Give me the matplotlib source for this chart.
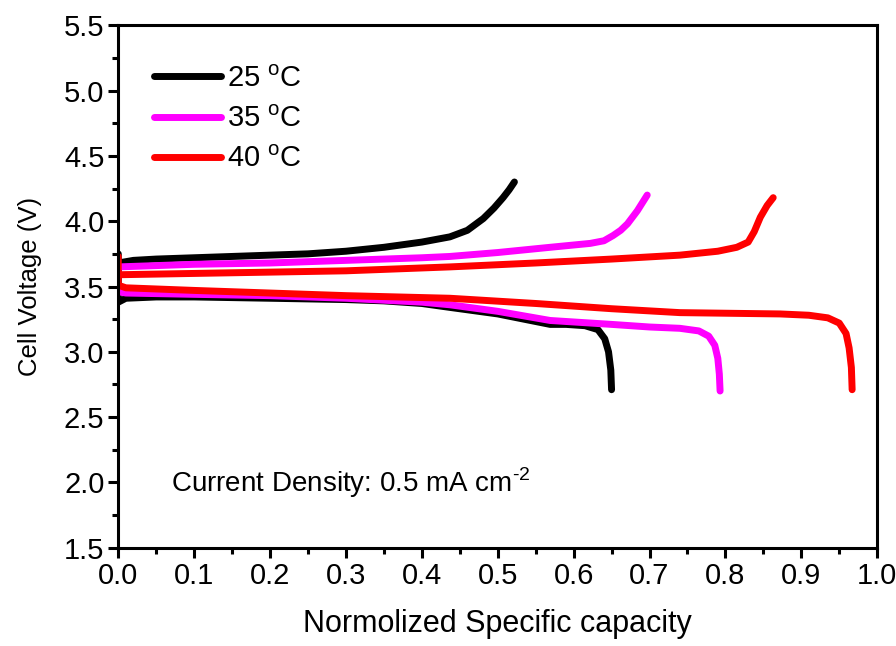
import matplotlib
matplotlib.use("Agg")
from matplotlib import pyplot as plt
from matplotlib.ticker import MultipleLocator
import numpy as np

plt.rcParams['font.family'] = ['Liberation Sans', 'DejaVu Sans']
plt.rcParams['mathtext.fontset'] = 'custom'
plt.rcParams['mathtext.rm'] = 'Liberation Sans'

# charge / discharge curves, capacity normalised
cap_25_chg = [0, 0.02, 0.05, 0.1, 0.15, 0.2, 0.25, 0.3, 0.35, 0.4, 0.437, 0.46, 0.481, 0.495, 0.507, 0.515, 0.522]
v_25_chg = [3.68, 3.70, 3.71, 3.72, 3.73, 3.74, 3.75, 3.77, 3.80, 3.84, 3.88, 3.93, 4.02, 4.10, 4.18, 4.24, 4.30]
cap_25_dis = [0, 0, 0.01, 0.05, 0.1, 0.2, 0.3, 0.35, 0.4, 0.437, 0.5, 0.569, 0.59, 0.615, 0.632, 0.641, 0.646, 0.649, 0.650]
v_25_dis = [3.75, 3.38, 3.41, 3.42, 3.42, 3.41, 3.40, 3.39, 3.37, 3.34, 3.29, 3.21, 3.21, 3.20, 3.17, 3.10, 3.00, 2.86, 2.71]

cap_35_chg = [0, 0.05, 0.1, 0.2, 0.3, 0.4, 0.437, 0.5, 0.569, 0.622, 0.640, 0.652, 0.662, 0.671, 0.684, 0.697]
v_35_chg = [3.65, 3.66, 3.67, 3.68, 3.70, 3.72, 3.73, 3.76, 3.80, 3.83, 3.85, 3.89, 3.93, 3.98, 4.08, 4.20]
cap_35_dis = [0, 0.01, 0.1, 0.2, 0.3, 0.4, 0.437, 0.5, 0.569, 0.65, 0.70, 0.74, 0.765, 0.778, 0.786, 0.790, 0.792, 0.793]
v_35_dis = [3.46, 3.45, 3.44, 3.43, 3.41, 3.38, 3.36, 3.31, 3.24, 3.21, 3.19, 3.18, 3.16, 3.12, 3.05, 2.95, 2.83, 2.70]

cap_40_chg = [0, 0.1, 0.2, 0.3, 0.437, 0.55, 0.65, 0.74, 0.79, 0.815, 0.830, 0.838, 0.846, 0.855, 0.863]
v_40_chg = [3.59, 3.60, 3.61, 3.62, 3.65, 3.68, 3.71, 3.74, 3.77, 3.80, 3.84, 3.92, 4.03, 4.12, 4.18]
cap_40_dis = [0, 0, 0.01, 0.1, 0.2, 0.3, 0.437, 0.55, 0.65, 0.74, 0.872, 0.91, 0.935, 0.950, 0.959, 0.963, 0.966, 0.967]
v_40_dis = [3.73, 3.51, 3.49, 3.47, 3.45, 3.43, 3.41, 3.37, 3.33, 3.30, 3.29, 3.28, 3.26, 3.22, 3.14, 3.03, 2.88, 2.71]

lw = 5
fig = plt.figure(figsize=(8.96, 6.46), dpi=100)
ax = fig.add_axes([0.132, 0.152, 0.847, 0.809])

kw = dict(lw=lw, solid_capstyle='round', solid_joinstyle='round')
ax.plot(cap_25_chg, v_25_chg, color='black', label='25 $^{\\rm o}$C', **kw)
ax.plot(cap_25_dis, v_25_dis, color='black', **kw)
ax.plot(cap_35_chg, v_35_chg, color='#ff00ff', label='35 $^{\\rm o}$C', **kw)
ax.plot(cap_35_dis, v_35_dis, color='#ff00ff', **kw)
ax.plot(cap_40_chg, v_40_chg, color='red', label='40 $^{\\rm o}$C', **kw)
ax.plot(cap_40_dis, v_40_dis, color='red', **kw)

ax.set_xlim(0, 1.0)
ax.set_ylim(1.5, 5.5)
ax.xaxis.set_minor_locator(MultipleLocator(0.05))
ax.yaxis.set_minor_locator(MultipleLocator(0.25))
ax.set_xticks(np.arange(0, 1.01, 0.1))
ax.set_xticklabels(['%.1f' % t for t in np.arange(0, 1.01, 0.1)])
ax.set_yticks(np.arange(1.5, 5.51, 0.5))
ax.set_yticklabels(['%.1f' % t for t in np.arange(1.5, 5.51, 0.5)])

for s in ax.spines.values():
    s.set_linewidth(2.2)
ax.tick_params(which='major', direction='out', length=7, width=2.2, labelsize=21, pad=3)
ax.tick_params(which='minor', direction='out', length=4, width=2.2)

ax.set_xlabel('Normolized Specific capacity', fontsize=22, labelpad=14)
ax.set_ylabel('Cell Voltage (V)', fontsize=18.5, labelpad=16)

ax.text(0.07, 2.0, 'Current Density: 0.5 mA cm$^{\\text{-2}}$', fontsize=20, va='center')

leg = ax.legend(loc='upper left', bbox_to_anchor=(0.013, 0.975), frameon=False,
                fontsize=21, handlelength=2.3, handletextpad=0.2, labelspacing=0.42)

fig.savefig('out.png', dpi=100)
